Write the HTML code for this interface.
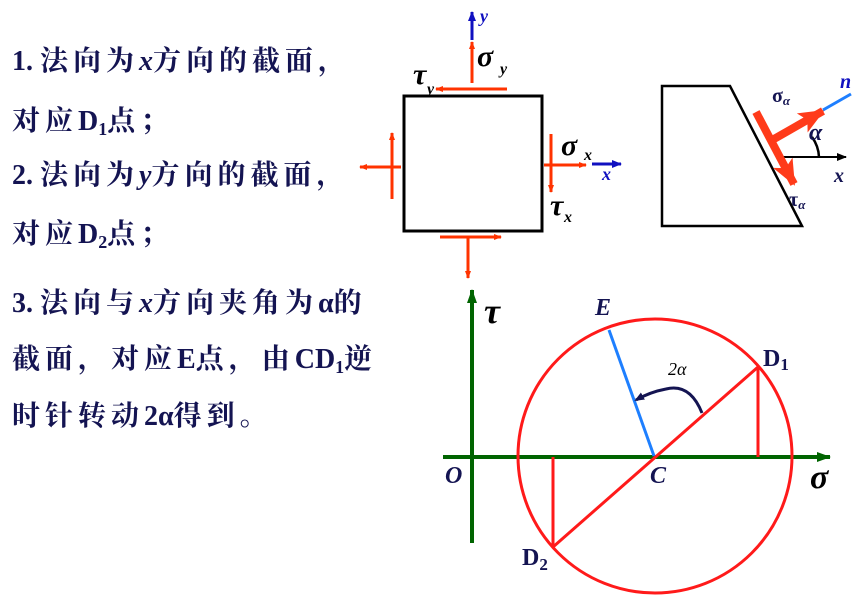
<!DOCTYPE html>
<html><head><meta charset="utf-8"><style>
html,body{margin:0;padding:0;background:#fff;}
svg{display:block;}
.t{font-family:"Liberation Serif","Noto Serif CJK SC",serif;font-weight:bold;font-size:28px;letter-spacing:5px;fill:#141452;}
.l{letter-spacing:0;}
.i{font-family:"Liberation Serif",serif;font-style:italic;font-weight:bold;}
</style></head><body>
<svg width="862" height="597" viewBox="0 0 862 597" xmlns="http://www.w3.org/2000/svg">
<defs>
<marker id="ar" markerWidth="8" markerHeight="8" refX="7" refY="4" orient="auto" markerUnits="userSpaceOnUse"><path d="M0,1 L8,4 L0,7 z" fill="#ff3300"/></marker>
<marker id="ab" markerWidth="10" markerHeight="8" refX="9" refY="4" orient="auto" markerUnits="userSpaceOnUse"><path d="M0,0 L10,4 L0,8 z" fill="#1010c0"/></marker>
<marker id="ak" markerWidth="10" markerHeight="8" refX="9" refY="4" orient="auto" markerUnits="userSpaceOnUse"><path d="M0,0 L10,4 L0,8 z" fill="#000"/></marker>
<marker id="ag" markerWidth="14" markerHeight="10" refX="13" refY="5" orient="auto" markerUnits="userSpaceOnUse"><path d="M0,0 L14,5 L0,10 z" fill="#006400"/></marker>
<marker id="aR" markerWidth="26" markerHeight="22" refX="24" refY="11" orient="auto" markerUnits="userSpaceOnUse"><path d="M0,0 L26,11 L0,22 L6,11 z" fill="#ff3b1a"/></marker>
<marker id="an" markerWidth="10" markerHeight="8" refX="8" refY="4" orient="auto" markerUnits="userSpaceOnUse"><path d="M0,0 L10,4 L0,8 z" fill="#141452"/></marker>
</defs>
<text class="t" x="12" y="70"><tspan class="l">1. </tspan>法向为<tspan class="i l">x</tspan>方向的截面，</text>
<text class="t" x="12" y="130">对应<tspan class="l">D</tspan><tspan class="l" font-size="18" dy="5">1</tspan><tspan dy="-5">点；</tspan></text>
<text class="t" x="12" y="184"><tspan class="l">2. </tspan>法向为<tspan class="i l">y</tspan>方向的截面，</text>
<text class="t" x="12" y="243">对应<tspan class="l">D</tspan><tspan class="l" font-size="18" dy="5">2</tspan><tspan dy="-5">点；</tspan></text>
<text class="t" x="12" y="312"><tspan class="l">3. </tspan>法向与<tspan class="i l">x</tspan>方向夹角为<tspan class="l">α</tspan>的</text>
<text class="t" x="12" y="368">截面，对应<tspan class="l">E</tspan>点，由<tspan class="l">CD</tspan><tspan class="l" font-size="18" dy="5">1</tspan><tspan dy="-5">逆</tspan></text>
<text class="t" x="12" y="425">时针转动<tspan class="l">2α</tspan>得到。</text>

<rect x="404" y="96" width="138" height="135" fill="none" stroke="#000" stroke-width="3"/>
<g stroke="#ff3300" stroke-width="3" fill="none">
<line x1="472" y1="83" x2="472" y2="42" marker-end="url(#ar)"/>
<line x1="507" y1="89" x2="436" y2="89" marker-end="url(#ar)"/>
<line x1="544" y1="165" x2="586" y2="165" marker-end="url(#ar)"/>
<line x1="551" y1="134" x2="551" y2="192" marker-end="url(#ar)"/>
<line x1="401" y1="167" x2="360" y2="167" marker-end="url(#ar)"/>
<line x1="392" y1="199" x2="392" y2="133" marker-end="url(#ar)"/>
<line x1="440" y1="237" x2="501" y2="237" marker-end="url(#ar)"/>
<line x1="468" y1="237" x2="468" y2="278" marker-end="url(#ar)"/>
</g>
<line x1="472" y1="40" x2="472" y2="12" stroke="#1010c0" stroke-width="3" marker-end="url(#ab)"/>
<line x1="592" y1="164" x2="621" y2="164" stroke="#1010c0" stroke-width="3" marker-end="url(#ab)"/>
<text class="i" x="480" y="22" font-size="18" fill="#1010c0">y</text>
<text class="i" x="602" y="180" font-size="18" fill="#1010c0">x</text>
<text class="i" x="477" y="66" font-size="30" fill="#000">σ</text><text class="i" x="500" y="74" font-size="16">y</text>
<text class="i" x="413" y="84" font-size="30" fill="#000">τ</text><text class="i" x="427" y="94" font-size="16">y</text>
<text class="i" x="561" y="155" font-size="30" fill="#000">σ</text><text class="i" x="584" y="160" font-size="16">x</text>
<text class="i" x="550" y="215" font-size="30" fill="#000">τ</text><text class="i" x="564" y="222" font-size="16">x</text>

<polygon points="662,86 730,86 802,226 662,226" fill="none" stroke="#000" stroke-width="2.5"/>
<line x1="782" y1="157" x2="846" y2="157" stroke="#000" stroke-width="2" marker-end="url(#ak)"/>
<path d="M819,157 A37,37 0 0 0 812,137" fill="none" stroke="#000" stroke-width="2.5"/>
<line x1="756" y1="112" x2="794" y2="184" stroke="#ff3b1a" stroke-width="8" marker-end="url(#aR)"/>
<line x1="774" y1="139" x2="823" y2="111" stroke="#ff3b1a" stroke-width="8" marker-end="url(#aR)"/>
<line x1="823" y1="110" x2="851" y2="94" stroke="#1e7fff" stroke-width="3"/>
<text x="772" y="102" font-family="Liberation Serif,serif" font-weight="bold" font-size="20" fill="#141452">σ<tspan font-size="13" font-style="italic" dy="3">α</tspan></text>
<text x="789" y="206" font-family="Liberation Serif,serif" font-weight="bold" font-size="20" fill="#141452">τ<tspan font-size="13" font-style="italic" dy="3">α</tspan></text>
<text class="i" x="809" y="140" font-size="24" fill="#141452">α</text>
<text class="i" x="840" y="88" font-size="20" fill="#1010c0">n</text>
<text class="i" x="834" y="182" font-size="20" fill="#141452">x</text>

<line x1="472" y1="543" x2="472" y2="290" stroke="#006400" stroke-width="4" marker-end="url(#ag)"/>
<line x1="443" y1="457" x2="830" y2="457" stroke="#006400" stroke-width="4" marker-end="url(#ag)"/>
<circle cx="655" cy="456" r="137" fill="none" stroke="#ff1a1a" stroke-width="3"/>
<g stroke="#ff1a1a" stroke-width="3">
<line x1="553" y1="547" x2="758" y2="367"/>
<line x1="758" y1="367" x2="758" y2="457"/>
<line x1="553" y1="547" x2="553" y2="457"/>
</g>
<line x1="609" y1="330" x2="654" y2="456" stroke="#1e7fff" stroke-width="3"/>
<path d="M702,413 Q690,383 666,389 Q650,392 636,400" fill="none" stroke="#141452" stroke-width="3" marker-end="url(#an)"/>
<text class="i" x="484" y="323" font-size="36" fill="#000">τ</text>
<text class="i" x="595" y="315" font-size="24" fill="#141452">E</text>
<text x="763" y="366" font-family="Liberation Serif,serif" font-weight="bold" font-size="24" fill="#141452">D<tspan font-size="17" dy="4">1</tspan></text>
<text x="522" y="565" font-family="Liberation Serif,serif" font-weight="bold" font-size="24" fill="#141452">D<tspan font-size="17" dy="5">2</tspan></text>
<text class="i" x="445" y="483" font-size="24" fill="#141452">O</text>
<text class="i" x="650" y="483" font-size="24" fill="#141452">C</text>
<text class="i" x="810" y="488" font-size="34" fill="#000">σ</text>
<text x="668" y="375" font-family="Liberation Serif,serif" font-style="italic" font-size="18" fill="#000">2α</text>
</svg>
</body></html>
